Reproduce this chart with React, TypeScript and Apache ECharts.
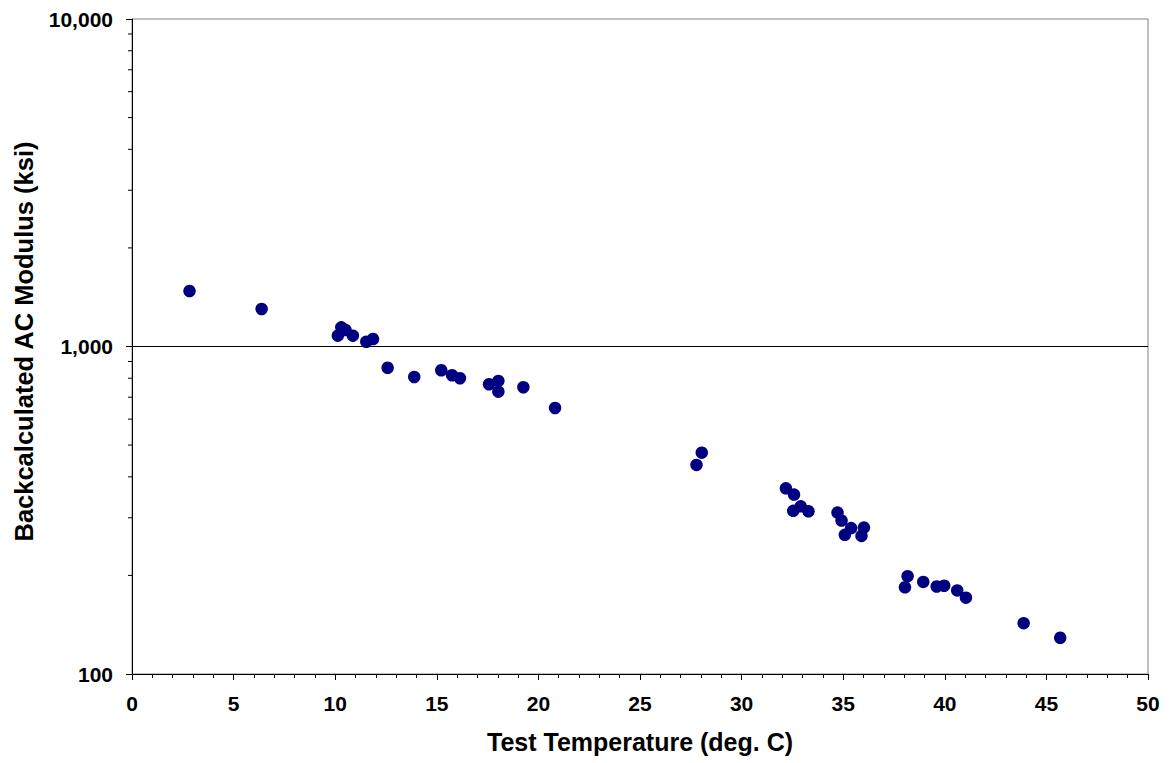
import React, { useEffect, useRef } from "react";
import * as echarts from "echarts";

const temperatures: number[] = [
  2.83, 6.38, 10.30, 10.13, 10.51, 10.87, 11.53, 11.86, 12.58, 13.89,
  15.22, 15.75, 16.14, 17.57, 18.03, 18.03, 19.26, 20.82,
  28.04, 27.78, 32.18, 32.58, 32.54, 32.91, 33.29, 34.72, 34.92,
  35.08, 35.39, 35.90, 36.02,
  38.17, 38.04, 38.94, 39.60, 39.97, 40.61, 41.04, 43.88, 45.68,
];
const moduli: number[] = [
  1477, 1302, 1144, 1079, 1123, 1079, 1034, 1054, 861, 807,
  846, 817, 800, 767, 785, 728, 751, 649,
  474, 435, 369, 353, 315, 325, 314, 311, 294,
  266, 279, 264, 280,
  199, 184, 191, 185, 186, 180, 171, 143, 129,
];
const yMinorTickValues: number[] = [200, 300, 400, 500, 600, 700, 800, 900, 2000, 3000, 4000, 5000, 6000, 7000, 8000, 9000];
const gridValue = 1000;

const FONT = "'Liberation Sans', Arial, Helvetica, sans-serif";

export default function App() {
  const ref = useRef<HTMLDivElement>(null);
  useEffect(() => {
    if (!ref.current) return;
    const chart = echarts.init(ref.current, undefined, { renderer: "svg" });
    const points = temperatures.map((t, i) => [t, moduli[i]]);
    chart.setOption({
      animation: false,
      backgroundColor: "#ffffff",
      grid: {
        left: 132,
        right: 24,
        top: 19,
        bottom: 89,
        show: true,
        borderColor: "#808080",
        borderWidth: 1,
        backgroundColor: "transparent",
      },
      xAxis: {
        type: "value",
        min: 0,
        max: 50,
        interval: 5,
        name: "Test Temperature (deg. C)",
        nameLocation: "middle",
        nameGap: 55,
        nameTextStyle: { fontFamily: FONT, fontWeight: "bold", fontSize: 25, color: "#000" },
        axisLine: { show: true, lineStyle: { color: "#000", width: 1 } },
        axisTick: { show: true, length: 6, lineStyle: { color: "#000" } },
        minorTick: { show: true, splitNumber: 5, length: 4, lineStyle: { color: "#000" } },
        axisLabel: { fontFamily: FONT, fontWeight: "bold", fontSize: 21, color: "#000", margin: 19 },
        splitLine: { show: false },
      },
      yAxis: {
        type: "log",
        logBase: 10,
        min: 100,
        max: 10000,
        name: "Backcalculated AC Modulus (ksi)",
        nameLocation: "middle",
        nameGap: 95,
        nameTextStyle: { fontFamily: FONT, fontWeight: "bold", fontSize: 25.5, color: "#000", padding: [0, 0, 0, 10] },
        axisLine: { show: true, lineStyle: { color: "#000", width: 1 } },
        axisTick: { show: true, length: 6, lineStyle: { color: "#000" } },
        minorTick: { show: false },
        axisLabel: {
          fontFamily: FONT,
          fontWeight: "bold",
          fontSize: 21,
          color: "#000",
          margin: 19,
          formatter: (v: number) => Math.round(v).toLocaleString("en-US"),
        },
        splitLine: { show: false },
      },
      series: [
        {
          type: "scatter",
          data: points,
          symbol: "circle",
          symbolSize: 12.5,
          itemStyle: { color: "#000080", opacity: 1 },
          z: 5,
          markLine: {
            silent: true,
            symbol: ["none", "none"],
            label: { show: false },
            lineStyle: { color: "#000", width: 1, type: "solid" },
            data: [{ yAxis: gridValue }],
          },
        },
        {
          type: "custom",
          silent: true,
          clip: false,
          data: yMinorTickValues.map((v) => [0, v]),
          renderItem: (params: any, api: any) => {
            const p = api.coord([api.value(0), api.value(1)]);
            return {
              type: "line",
              shape: { x1: p[0] - 4, y1: p[1], x2: p[0], y2: p[1] },
              style: { stroke: "#000", lineWidth: 1 },
            };
          },
          z: 3,
        },
      ],
    });
    return () => chart.dispose();
  }, []);
  return <div ref={ref} style={{ width: 1172, height: 763, position: "absolute", left: 0, top: 0 }} />;
}
